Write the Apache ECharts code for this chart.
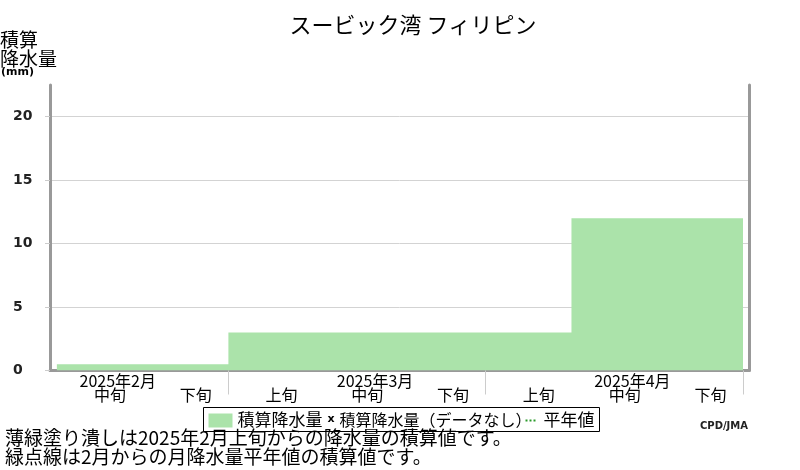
<!DOCTYPE html>
<html><head><meta charset="utf-8">
<script src="https://cdn.jsdelivr.net/npm/echarts@6/dist/echarts.min.js"></script>
<style>html,body{margin:0;padding:0;background:#fff}#c{width:800px;height:470px}</style>
</head><body><div id="c"></div>
<script>
const titleText = 'スービック湾 フィリピン';
const dekadLabels = ['中旬','下旬','上旬','中旬','下旬','上旬','中旬','下旬'];
const monthLabels = ['2025年2月','2025年3月','2025年4月'];
const monthBoundaries = [2, 5, 8];
const cumPrecip = [0.5, 0.5, 3, 3, 3, 3, 12, 12];
const yTicks = [0, 5, 10, 15, 20];
const note1 = '薄緑塗り潰しは2025年2月上旬からの降水量の積算値です。';
const note2 = '緑点線は2月からの月降水量平年値の積算値です。';

const FONT = '"Noto Sans CJK JP", sans-serif';
const GREEN = '#abe3aa';

// step data: each dekad spans [i, i+1]
const stepData = cumPrecip.map((v, i) => [i, v]);
stepData.push([cumPrecip.length, cumPrecip[cumPrecip.length - 1]]);

const dekadPos = dekadLabels.map((_, i) => i + 0.62);
const midIdx = dekadLabels.map((d, i) => d === '中旬' ? i : -1).filter(i => i >= 0);
const monthPos = midIdx.map(i => i + 0.71);

const chart = echarts.init(document.getElementById('c'), null, {renderer: 'canvas'});
chart.setOption({
  animation: false,
  backgroundColor: '#fff',
  title: {
    text: titleText, left: 408, top: 9, textAlign: 'center',
    textStyle: {fontFamily: FONT, fontSize: 22, fontWeight: 'normal', color: '#000'}
  },
  grid: {left: 50, right: 51, top: 85, bottom: 99.5},
  xAxis: [{
    type: 'value', min: -0.08, max: 8.07,
    axisLine: {show: true, onZero: false, lineStyle: {color: '#999', width: 3}},
    axisTick: {show: true, customValues: monthBoundaries, length: 24, lineStyle: {color: '#ccc', width: 1}},
    splitLine: {show: false},
    axisLabel: {
      customValues: dekadPos, margin: 16,
      fontFamily: FONT, fontSize: 16, color: '#000',
      formatter: v => dekadLabels[Math.floor(v)] || ''
    }
  }, {
    type: 'value', min: -0.08, max: 8.07, position: 'bottom',
    axisLine: {show: false}, axisTick: {show: false}, splitLine: {show: false},
    axisLabel: {
      customValues: monthPos, margin: 2,
      fontFamily: FONT, fontSize: 16, color: '#000',
      formatter: v => monthLabels[midIdx.indexOf(Math.floor(v))] || ''
    }
  }],
  yAxis: [{
    type: 'value', min: 0, max: 22.5, interval: 5,
    axisLine: {show: true, onZero: false, lineStyle: {color: '#999', width: 3}},
    axisTick: {show: true, length: 5, customValues: yTicks, lineStyle: {color: '#ccc'}},
    splitLine: {show: true, lineStyle: {color: '#d3d3d3', width: 1}},
    axisLabel: {
      customValues: yTicks, align: 'left', margin: 37,
      fontFamily: '"DejaVu Sans", sans-serif', fontWeight: 'bold', fontSize: 14, color: '#222'
    }
  }, {
    type: 'value', min: 0, max: 22.5, position: 'right',
    axisLine: {show: true, onZero: false, lineStyle: {color: '#999', width: 3}},
    axisTick: {show: false}, axisLabel: {show: false}, splitLine: {show: false}
  }],
  series: [{
    name: '積算降水量', type: 'line', step: 'end',
    data: stepData, symbol: 'none',
    lineStyle: {width: 0, color: GREEN},
    areaStyle: {color: GREEN, opacity: 1},
    z: 1
  }],
  graphic: [
    {type: 'text', left: 0, top: 30, style: {text: '積算', font: '19px ' + FONT, fill: '#000'}},
    {type: 'text', left: 0, top: 49, style: {text: '降水量', font: '19px ' + FONT, fill: '#000'}},
    {type: 'text', left: 1, top: 67, style: {text: '(mm)', font: 'bold 11px "DejaVu Sans", sans-serif', fill: '#000'}},
    {type: 'group', left: 203, top: 407, children: [
      {type: 'rect', shape: {x: 0, y: 0, width: 396, height: 24}, style: {fill: '#fff', stroke: '#000', lineWidth: 1}},
      {type: 'rect', shape: {x: 5, y: 6, width: 24, height: 14}, style: {fill: GREEN}},
      {type: 'text', x: 34, y: 12, style: {text: '積算降水量', font: '17px ' + FONT, fill: '#000', verticalAlign: 'middle'}},
      {type: 'text', x: 124, y: 12, style: {text: 'x', font: 'bold 11px "DejaVu Sans", sans-serif', fill: '#000', verticalAlign: 'middle'}},
      {type: 'text', x: 136, y: 12, style: {text: '積算降水量（データなし）', font: '16px ' + FONT, fill: '#000', verticalAlign: 'middle'}},
      {type: 'line', shape: {x1: 322, y1: 13, x2: 334, y2: 13}, style: {stroke: '#2a9a2a', lineWidth: 2, lineDash: [2, 2]}},
      {type: 'text', x: 340, y: 12, style: {text: '平年値', font: '17px ' + FONT, fill: '#000', verticalAlign: 'middle'}}
    ]},
    {type: 'text', left: 700, top: 421, style: {text: 'CPD/JMA', font: 'bold 10px "DejaVu Sans", sans-serif', fill: '#222'}},
    {type: 'text', left: 5, top: 428, style: {text: note1, font: '19px ' + FONT, fill: '#000'}},
    {type: 'text', left: 5, top: 447, style: {text: note2, font: '19px ' + FONT, fill: '#000'}}
  ]
});
</script></body></html>
